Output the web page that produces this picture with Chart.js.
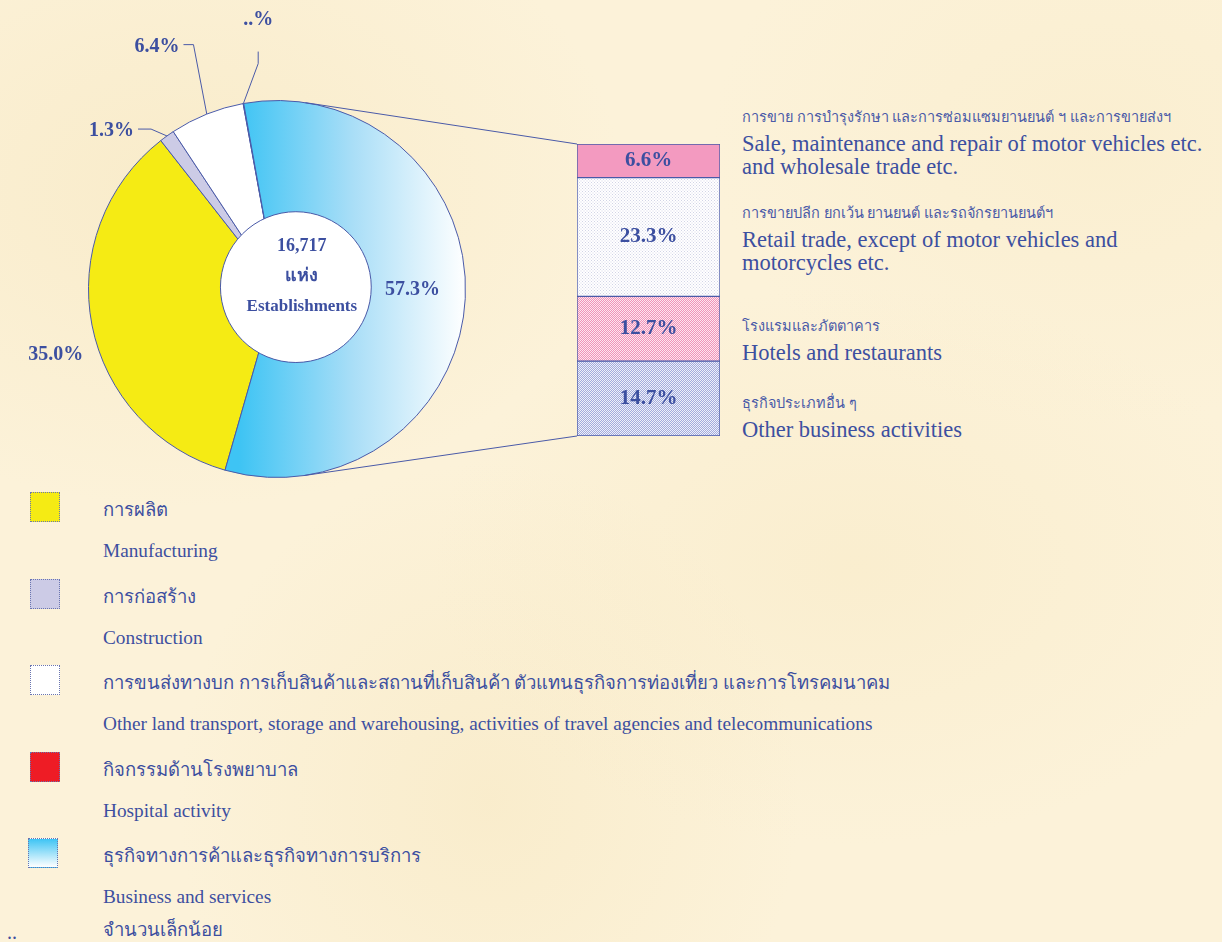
<!DOCTYPE html>
<html>
<head>
<meta charset="utf-8">
<script src="https://cdn.jsdelivr.net/npm/chart.js@4.4.1/dist/chart.umd.min.js"></script>
<style>
  body {
    margin: 0;
    width: 1222px;
    height: 942px;
    overflow: hidden;
    position: relative;
    font-family: "Liberation Serif", "Times New Roman", serif;
    color: #3c4fa0;
    background:
      radial-gradient(ellipse at 15% 20%, rgba(244, 226, 180, 0.4), transparent 30%),
      radial-gradient(ellipse at 70% 60%, rgba(246, 230, 188, 0.35), transparent 35%),
      radial-gradient(ellipse at 40% 85%, rgba(244, 226, 180, 0.35), transparent 30%),
      radial-gradient(ellipse at 90% 15%, rgba(247, 232, 192, 0.35), transparent 25%),
      #fcf2d9;
  }
  #pieChart { position: absolute; left: 0; top: 0; }
  #barChart { position: absolute; left: 576px; top: 143px; }
  .detail { position: absolute; left: 742px; }
  .detail .th { font-size: 14.5px; line-height: 18px; color: #4a5aa8; white-space: nowrap; }
  .detail .en { font-size: 22.5px; line-height: 23px; margin-top: 5.5px; white-space: nowrap; }
  #legend { position: absolute; left: 0; top: 490px; width: 1222px; }
  .item { position: relative; height: 86.6px; }
  .box { position: absolute; left: 30px; top: 2px; width: 28px; height: 28px; border: 1px dotted #6a75b0; }
  .item .th { position: absolute; left: 103px; top: 7px; font-size: 18.5px; line-height: 26px; white-space: nowrap; }
  .item .en { position: absolute; left: 103px; top: 50px; font-size: 19.3px; line-height: 22px; white-space: nowrap; }
  #note { position: absolute; left: 0; top: 915px; width: 600px; }
  #note .dots { position: absolute; left: 7px; top: 6px; font-size: 20px; }
  #note .th { position: absolute; left: 103px; top: 2px; font-size: 18.5px; line-height: 26px; }
</style>
</head>
<body>
<canvas id="pieChart" width="580" height="490"></canvas>
<canvas id="barChart" width="145" height="294"></canvas>
<div id="details"></div>
<div id="legend"></div>
<div id="note"><span class="dots">..</span><span class="th">จำนวนเล็กน้อย</span></div>
<script>
// establishments by industry (per cent), legend order
const sectorTh = ['การผลิต', 'การก่อสร้าง',
  'การขนส่งทางบก การเก็บสินค้าและสถานที่เก็บสินค้า ตัวแทนธุรกิจการท่องเที่ยว และการโทรคมนาคม',
  'กิจกรรมด้านโรงพยาบาล', 'ธุรกิจทางการค้าและธุรกิจทางการบริการ'];
const sectorEn = ['Manufacturing', 'Construction',
  'Other land transport, storage and warehousing, activities of travel agencies and telecommunications',
  'Hospital activity', 'Business and services'];
const sectorShares = [35.0, 1.3, 6.4, 0.05, 57.3];
const sectorText = ['35.0%', '1.3%', '6.4%', '..%', '57.3%'];
const sectorColors = ['#f5eb14', '#cccbe6', '#ffffff', '#ee1c25', '#3ec4f4'];

// breakdown of business and services, bottom to top
const tradeTh = ['ธุรกิจประเภทอื่น ๆ', 'โรงแรมและภัตตาคาร',
  'การขายปลีก ยกเว้น ยานยนต์ และรถจักรยานยนต์ฯ',
  'การขาย การบำรุงรักษา และการซ่อมแซมยานยนต์ ฯ และการขายส่งฯ'];
const tradeEn = ['Other business activities', 'Hotels and restaurants',
  'Retail trade, except of motor vehicles and<br>motorcycles etc.',
  'Sale, maintenance and repair of motor vehicles etc.<br>and wholesale trade etc.'];
const tradeShares = [14.7, 12.7, 23.3, 6.6];

const totalCount = '16,717';
const unitTh = 'แห่ง';
const unitEn = 'Establishments';

const INK = '#3c4fa0';
const EDGE = '#4a5aa8';
const LABEL_FONT = 'bold 20px "Liberation Serif", serif';

function dotPattern(base, dot, step) {
  const c = document.createElement('canvas');
  c.width = step; c.height = step;
  const g = c.getContext('2d');
  g.fillStyle = base;
  g.fillRect(0, 0, step, step);
  g.fillStyle = dot;
  g.fillRect(0, 0, 1, 1);
  g.fillRect(step / 2, step / 2, 1, 1);
  return g.createPattern(c, 'repeat');
}

const barCtx = document.getElementById('barChart').getContext('2d');
const tradeFills = [
  dotPattern('#eef0fa', '#a3abdc', 2),
  dotPattern('#fde6ef', '#f092b8', 2),
  dotPattern('#ffffff', '#d2d4e6', 3),
  '#f39ac0'
];

const barLabels = {
  id: 'barLabels',
  afterDatasetsDraw(chart) {
    const ctx = chart.ctx;
    ctx.save();
    ctx.font = 'bold 21px "Liberation Serif", serif';
    ctx.fillStyle = INK;
    ctx.textAlign = 'center';
    ctx.textBaseline = 'middle';
    chart.data.datasets.forEach((ds, i) => {
      const el = chart.getDatasetMeta(i).data[0];
      ctx.fillText(ds.data[0].toFixed(1) + '%', el.x, (el.y + el.base) / 2);
    });
    ctx.restore();
  }
};

const barChart = new Chart(barCtx, {
  type: 'bar',
  data: {
    labels: [''],
    datasets: tradeShares.map((v, i) => ({
      label: tradeEn[i],
      data: [v],
      backgroundColor: tradeFills[i],
      borderColor: EDGE,
      borderWidth: 1,
      borderSkipped: false,
      barPercentage: 1,
      categoryPercentage: 1
    }))
  },
  options: {
    responsive: false,
    animation: false,
    events: [],
    layout: { padding: 1 },
    scales: {
      x: { stacked: true, display: false },
      y: { stacked: true, display: false, min: 0, max: tradeShares.reduce((a, b) => a + b, 0) }
    },
    plugins: { legend: { display: false }, tooltip: { enabled: false } }
  },
  plugins: [barLabels]
});

// leader-line settings for the small slices: angle shift (deg) and radius factor of the elbow
const leaders = {
  1: { shift: -2.5, reach: 1.08, dx: -13, dy: 0 },
  2: { shift: 3, reach: 1.37, dx: -10, dy: 0 },
  3: { shift: 5.5, reach: 1.2, dx: 0, dy: -12 }
};

const pieDecor = {
  id: 'pieDecor',
  afterDatasetsDraw(chart) {
    const ctx = chart.ctx;
    const arcs = chart.getDatasetMeta(0).data;
    const cx = arcs[0].x, cy = arcs[0].y, r = arcs[0].outerRadius;

    // connectors to the breakdown bar (tangent lines)
    const pb = chart.canvas.getBoundingClientRect();
    const bc = barChart.canvas.getBoundingClientRect();
    const topEl = barChart.getDatasetMeta(tradeShares.length - 1).data[0];
    const botEl = barChart.getDatasetMeta(0).data[0];
    const corners = [
      { x: bc.left - pb.left + topEl.x - topEl.width / 2, y: bc.top - pb.top + topEl.y, side: -1 },
      { x: bc.left - pb.left + botEl.x - botEl.width / 2, y: bc.top - pb.top + botEl.base, side: 1 }
    ];
    ctx.save();
    ctx.strokeStyle = EDGE;
    ctx.lineWidth = 1;
    corners.forEach(p => {
      const dx = p.x - cx, dy = p.y - cy;
      const d = Math.hypot(dx, dy);
      const a = Math.atan2(dy, dx) + p.side * Math.acos(r / d);
      ctx.beginPath();
      ctx.moveTo(cx + r * Math.cos(a), cy + r * Math.sin(a));
      ctx.lineTo(p.x, p.y);
      ctx.stroke();
    });

    // centre disc
    const dc = { x: cx + 0.1 * r, y: cy - 0.01 * r, r: 0.4 * r };
    ctx.beginPath();
    ctx.arc(dc.x, dc.y, dc.r, 0, Math.PI * 2);
    ctx.fillStyle = '#ffffff';
    ctx.fill();
    ctx.stroke();
    ctx.fillStyle = INK;
    ctx.textAlign = 'center';
    ctx.textBaseline = 'middle';
    ctx.font = 'bold 18px "Liberation Serif", serif';
    ctx.fillText(totalCount, dc.x + 6, dc.y - 41);
    ctx.fillText(unitTh, dc.x + 6, dc.y - 11);
    ctx.font = 'bold 17px "Liberation Serif", serif';
    ctx.fillText(unitEn, dc.x + 6, dc.y + 19);

    // percentage labels
    ctx.font = LABEL_FONT;
    arcs.forEach((arc, i) => {
      const mid = (arc.startAngle + arc.endAngle) / 2;
      const text = sectorText[i];
      if (leaders[i]) {
        const L = leaders[i];
        const ea = mid + L.shift * Math.PI / 180;
        const p0 = { x: cx + r * Math.cos(mid), y: cy + r * Math.sin(mid) };
        const p1 = { x: cx + r * L.reach * Math.cos(ea), y: cy + r * L.reach * Math.sin(ea) };
        const p2 = { x: p1.x + L.dx, y: p1.y + L.dy };
        ctx.beginPath();
        ctx.moveTo(p0.x, p0.y);
        ctx.lineTo(p1.x, p1.y);
        ctx.lineTo(p2.x, p2.y);
        ctx.stroke();
        if (L.dy < 0) {
          ctx.textAlign = 'center';
          ctx.textBaseline = 'bottom';
          ctx.fillText(text, p2.x, p2.y - 22);
        } else {
          ctx.textAlign = 'right';
          ctx.textBaseline = 'middle';
          ctx.fillText(text, p2.x - 4, p2.y + 2);
        }
      } else {
        const big = sectorShares[i] > 50;
        const k = big ? 0.72 : 1.18;
        ctx.textAlign = 'center';
        ctx.textBaseline = 'middle';
        ctx.fillText(text, cx + r * k * Math.cos(mid) - (big ? 0 : 3), cy + r * k * Math.sin(mid) + (big ? -6 : 23));
      }
    });
    ctx.restore();
  }
};

const pieChart = new Chart(document.getElementById('pieChart').getContext('2d'), {
  type: 'pie',
  data: {
    labels: sectorEn,
    datasets: [{
      data: sectorShares,
      backgroundColor: (c) => {
        if (c.dataIndex !== 4) return sectorColors[c.dataIndex];
        const area = c.chart.chartArea;
        if (!area) return sectorColors[4];
        const mx = (area.left + area.right) / 2, rr = (area.right - area.left) / 2;
        const g = c.chart.ctx.createLinearGradient(mx - 0.2 * rr, 0, mx + rr, 0);
        g.addColorStop(0, '#3ec4f4');
        g.addColorStop(0.5, '#a9def7');
        g.addColorStop(1, '#ffffff');
        return g;
      },
      borderColor: EDGE,
      borderWidth: 1
    }]
  },
  options: {
    responsive: false,
    animation: false,
    events: [],
    rotation: -164,
    layout: { padding: { left: 88, right: 114, top: 95, bottom: 7 } },
    plugins: { legend: { display: false }, tooltip: { enabled: false } }
  },
  plugins: [pieDecor]
});

// breakdown descriptions, next to each segment
const detailTops = [394, 317, 204, 108];
const details = document.getElementById('details');
tradeTh.forEach((th, i) => {
  const d = document.createElement('div');
  d.className = 'detail';
  d.style.top = detailTops[i] + 'px';
  d.innerHTML = '<div class="th">' + th + '</div><div class="en">' + tradeEn[i] + '</div>';
  details.appendChild(d);
});

// legend
const legend = document.getElementById('legend');
sectorTh.forEach((th, i) => {
  const item = document.createElement('div');
  item.className = 'item';
  const fill = i === 4 ? 'linear-gradient(#3ec4f4, #ffffff)' : sectorColors[i];
  const shift = i === 4 ? ' style="left:28px;background:' + fill + '"' : ' style="background:' + fill + '"';
  item.innerHTML = '<div class="box"' + shift + '></div>' +
    '<div class="th">' + th + '</div><div class="en">' + sectorEn[i] + '</div>';
  legend.appendChild(item);
});
</script>
</body>
</html>
